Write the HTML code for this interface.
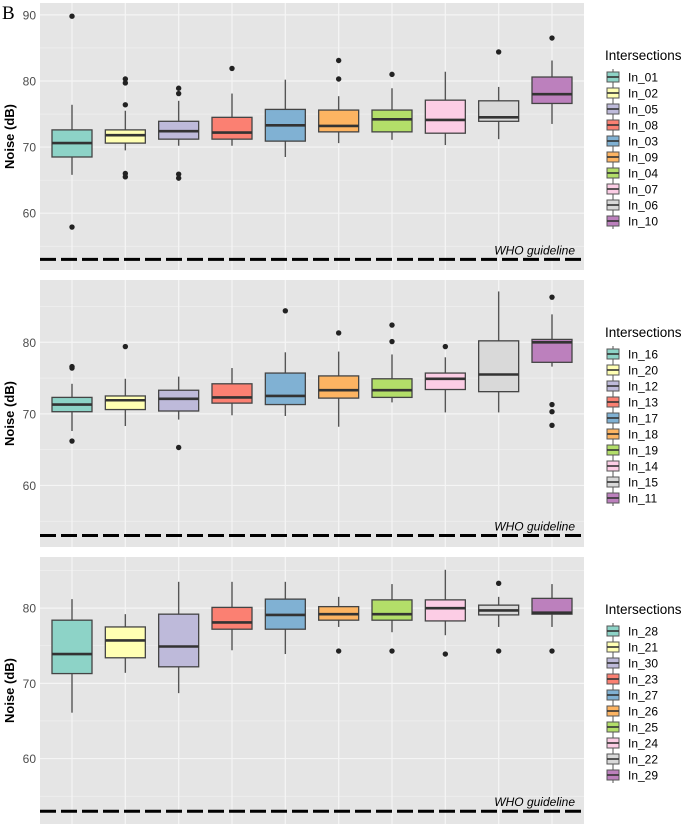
<!DOCTYPE html>
<html><head><meta charset="utf-8">
<style>
html,body{margin:0;padding:0;background:#fff;}
svg{display:block;font-family:"Liberation Sans",sans-serif;}
</style></head>
<body>
<svg id="chart" width="685" height="826" viewBox="0 0 685 826" xmlns="http://www.w3.org/2000/svg">
<text x="2" y="19" font-family="Liberation Serif" font-size="19" fill="#000">B</text>
</svg>
<script>
const colors = ["#8DD3C7","#FFFFB3","#BEBADA","#FB8072","#80B1D3","#FDB462","#B3DE69","#FCCDE5","#D9D9D9","#BC80BD"];
const yTicks = [60,70,80,90];
const guideline = 53;
// Panel 1
const cats1 = ["In_01","In_02","In_05","In_08","In_03","In_09","In_04","In_07","In_06","In_10"];
const lo1  = [65.8,69.5,70.2,70.2,68.5,70.6,71.1,70.3,71.2,73.5];
const q1_1 = [68.5,70.6,71.2,71.2,70.9,72.3,72.3,72.1,73.9,76.6];
const med1 = [70.6,71.8,72.4,72.2,73.3,73.2,74.2,74.1,74.5,78.0];
const q3_1 = [72.6,72.6,73.9,74.5,75.7,75.6,75.6,77.1,77.0,80.6];
const hi1  = [76.4,75.5,77.0,78.1,80.2,77.7,78.9,81.4,79.1,83.1];
const out1 = [[89.8,57.9],[80.3,79.7,76.4,66.0,65.5],[78.9,78.1,65.9,65.3],[81.9],[],[83.1,80.3],[81.0],[],[84.4],[86.5]];
// Panel 2
const cats2 = ["In_16","In_20","In_12","In_13","In_17","In_18","In_19","In_14","In_15","In_11"];
const lo2  = [67.6,68.3,69.2,69.8,69.7,68.2,71.6,70.2,70.2,76.6];
const q1_2 = [70.3,70.6,70.4,71.5,71.3,72.2,72.3,73.4,73.1,77.2];
const med2 = [71.3,71.9,72.1,72.3,72.5,73.3,73.3,74.9,75.5,80.0];
const q3_2 = [72.3,72.5,73.3,74.2,75.7,75.3,74.9,75.7,80.2,80.4];
const hi2  = [74.2,74.9,75.2,76.4,78.6,78.7,78.3,77.9,87.1,83.9];
const out2 = [[76.6,76.4,66.2],[79.4],[65.3],[],[84.4],[81.3],[82.4,80.1],[79.4],[],[86.3,71.3,70.3,68.4]];
// Panel 3
const cats3 = ["In_28","In_21","In_30","In_23","In_27","In_26","In_25","In_24","In_22","In_29"];
const lo3  = [66.1,71.4,68.7,74.4,73.9,77.5,76.8,76.4,77.5,77.5];
const q1_3 = [71.3,73.4,72.2,77.2,77.2,78.4,78.4,78.3,79.1,79.2];
const med3 = [73.9,75.7,74.9,78.1,79.1,79.2,79.2,80.0,79.7,79.4];
const q3_3 = [78.4,77.5,79.2,80.1,81.2,80.2,81.1,81.1,80.4,81.3];
const hi3  = [81.2,79.2,83.5,83.5,83.5,81.5,83.2,85.1,81.5,83.2];
const out3 = [[],[],[],[],[],[74.3],[74.3],[73.9],[83.3,74.3],[74.3]];

const svg = document.getElementById('chart');
const NS = "http://www.w3.org/2000/svg";
function mk(tag, attrs, parent){
  const e = document.createElementNS(NS, tag);
  for (const k in attrs) e.setAttribute(k, attrs[k]);
  (parent||svg).appendChild(e);
  return e;
}
const panels = [
  {cats:cats1,lo:lo1,q1:q1_1,med:med1,q3:q3_1,hi:hi1,out:out1,top:3,bot:270,ymin:51.4,ymax:91.8,legY:55},
  {cats:cats2,lo:lo2,q1:q1_2,med:med2,q3:q3_2,hi:hi2,out:out2,top:280,bot:547,ymin:51.4,ymax:88.7,legY:332},
  {cats:cats3,lo:lo3,q1:q1_3,med:med3,q3:q3_3,hi:hi3,out:out3,top:557,bot:824,ymin:51.3,ymax:86.8,legY:609}
];
const L = 40, R = 584;
panels.forEach((p, pi) => {
  const g = mk('g', {});
  
  
  const y = v => p.bot - (v - p.ymin) / (p.ymax - p.ymin) * (p.bot - p.top);
  const n = p.cats.length;
  const step = (R - L) / (n - 1 + 1.2);
  const x = i => L + (0.6 + i) * step;
  const bg = mk('rect', {x:L, y:p.top, width:R-L, height:p.bot-p.top, fill:'#E5E5E5'}, g);
  
  
  for (let v = 55; v < p.ymax; v += 10) {
    if (v > p.ymin) mk('line', {x1:L, x2:R, y1:y(v), y2:y(v), stroke:'#F2F2F2', 'stroke-width':0.6}, g);
  }
  yTicks.forEach(v => {
    if (v < p.ymin || v > p.ymax) return;
    const gl = mk('line', {x1:L, x2:R, y1:y(v), y2:y(v), stroke:'#F5F5F5', 'stroke-width':1.2}, g);
    
    
    const t = mk('text', {x:36, y:y(v)+4.5, 'text-anchor':'end', 'font-size':12, fill:'#4D4D4D'}, g);
    t.textContent = v;
    
    
  });
  for (let i = 0; i < n; i++) mk('line', {x1:x(i), x2:x(i), y1:p.top, y2:p.bot, stroke:'#F5F5F5', 'stroke-width':1.2}, g);
  const gd = mk('line', {x1:L, x2:R, y1:y(guideline), y2:y(guideline), stroke:'#000', 'stroke-width':3, 'stroke-dasharray':'16 5'}, g);
  
  
  const wt = mk('text', {x:575, y:y(guideline)-5, 'text-anchor':'end', 'font-size':12, 'font-style':'italic', fill:'#000'}, g);
  wt.textContent = 'WHO guideline';
  
  
  const bw = step * 0.75;
  for (let i = 0; i < n; i++) {
    const bx = mk('g', {}, g);
    
    
    mk('line', {x1:x(i), x2:x(i), y1:y(p.hi[i]), y2:y(p.lo[i]), stroke:'#555', 'stroke-width':1.4}, bx);
    mk('rect', {x:x(i)-bw/2, y:y(p.q3[i]), width:bw, height:y(p.q1[i])-y(p.q3[i]), fill:colors[i], stroke:'#444', 'stroke-width':1.3}, bx);
    mk('line', {x1:x(i)-bw/2, x2:x(i)+bw/2, y1:y(p.med[i]), y2:y(p.med[i]), stroke:'#333', 'stroke-width':2.6}, bx);
    p.out[i].forEach(v => {
      const c = mk('circle', {cx:x(i), cy:y(v), r:2.7, fill:'#222'}, bx);
      
      
    });
  }
  const yt = mk('text', {x:0, y:0, transform:`translate(14,${(p.top+p.bot)/2}) rotate(-90)`, 'text-anchor':'middle', 'font-size':13, 'font-weight':'bold', fill:'#000'}, g);
  yt.textContent = 'Noise (dB)';
  
  
  const lg = mk('g', {}, g);
  
  
  const lt = mk('text', {x:605, y:p.legY+5, 'font-size':13.5, fill:'#000'}, lg);
  lt.textContent = 'Intersections';
  
  
  for (let i = 0; i < n; i++) {
    const ky = p.legY + 22 + i * 16;
    const e = mk('g', {}, lg);
    
    
    mk('line', {x1:613, x2:613, y1:ky-8, y2:ky+8, stroke:'#555', 'stroke-width':1}, e);
    mk('rect', {x:607, y:ky-5, width:12, height:10, fill:colors[i], stroke:'#555', 'stroke-width':1}, e);
    mk('line', {x1:607, x2:619, y1:ky, y2:ky, stroke:'#333', 'stroke-width':1.6}, e);
    const t = mk('text', {x:628, y:ky+4.5, 'font-size':12, fill:'#000'}, e);
    t.textContent = p.cats[i];
  }
});
</script>
</body></html>
